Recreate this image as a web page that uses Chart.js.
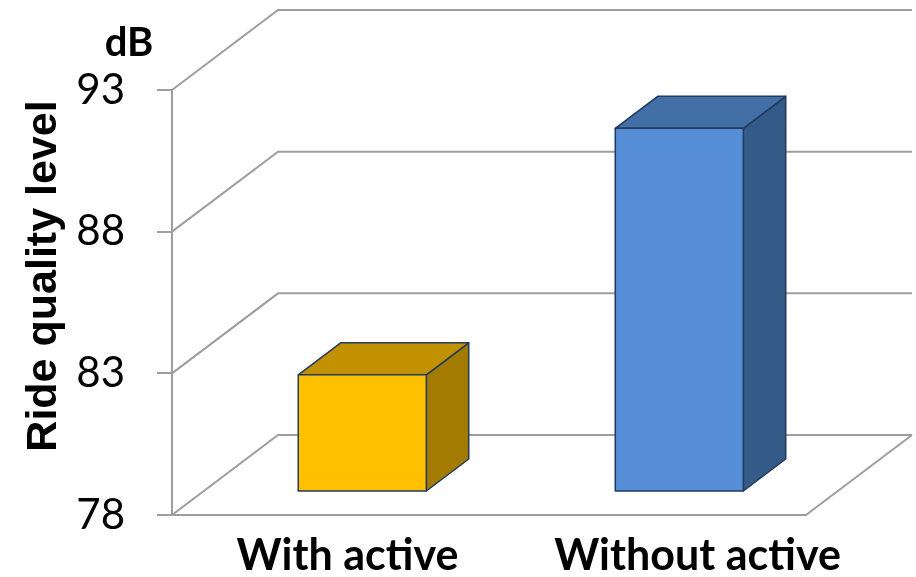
<!DOCTYPE html>
<html>
<head>
<meta charset="utf-8">
<script src="https://cdn.jsdelivr.net/npm/chart.js@4"></script>
<style>
  html, body { margin: 0; padding: 0; background: #ffffff; }
  #wrap { width: 916px; height: 577px; }
</style>
</head>
<body>
<div id="wrap"><canvas id="c" width="916" height="577"></canvas></div>
<script>
// Categories and measured ride quality level (dB)
const categories = ['With active', 'Without active'];
const rideQuality = [82.1, 90.8];
const tickValues = [78, 83, 88, 93];
const unitLabel = 'dB';
const axisTitle = 'Ride quality level';

// 3D look: depth offset of the back wall and bar faces
const DEPTH = { dx: 106, dy: 80 };
const BAR = { front: 0.3, back: 0.7, width: 0.404 };
const FACE_COLORS = [
  { front: '#FFC000', top: '#C29100', side: '#A27B00' },
  { front: '#558ED5', top: '#426FA6', side: '#345A88' }
];
const EDGE = '#213A5E';
const WALL = '#9e9e9e';
const LABEL_SHIFT = [17, 50];

const threeD = {
  id: 'threeD',
  beforeDraw(chart) {
    const ctx = chart.ctx;
    ctx.save();
    ctx.fillStyle = '#ffffff';
    ctx.fillRect(0, 0, chart.width, chart.height);
    ctx.restore();
  },
  beforeDatasetsDraw(chart) {
    const { ctx, scales: { x, y } } = chart;
    const left = x.left, right = x.right;
    ctx.save();
    ctx.strokeStyle = WALL;
    ctx.lineWidth = 2;
    // side-wall diagonals and back-wall gridlines
    tickValues.forEach(v => {
      const py = y.getPixelForValue(v);
      ctx.beginPath();
      ctx.moveTo(left, py);
      ctx.lineTo(left + DEPTH.dx, py - DEPTH.dy);
      ctx.lineTo(right + DEPTH.dx, py - DEPTH.dy);
      ctx.stroke();
    });
    // floor right edge
    const pb = y.getPixelForValue(y.min);
    ctx.beginPath();
    ctx.moveTo(right, pb);
    ctx.lineTo(right + DEPTH.dx, pb - DEPTH.dy);
    ctx.stroke();
    ctx.restore();
  },
  afterDatasetsDraw(chart) {
    const { ctx, scales: { x, y } } = chart;
    const catW = x.width / categories.length;
    const bw = catW * BAR.width;
    const fx = BAR.front * DEPTH.dx, fy = BAR.front * DEPTH.dy;
    const bx = (BAR.back - BAR.front) * DEPTH.dx, by = (BAR.back - BAR.front) * DEPTH.dy;
    ctx.save();
    ctx.lineJoin = 'round';
    ctx.strokeStyle = EDGE;
    ctx.lineWidth = 1.5;
    rideQuality.forEach((v, i) => {
      const xc = x.getPixelForValue(i);
      const x1 = xc - bw / 2 + fx, x2 = xc + bw / 2 + fx;
      const yt = y.getPixelForValue(v) - fy;
      const yb = y.getPixelForValue(y.min) - fy;
      const c = FACE_COLORS[i];
      const poly = (pts, fill) => {
        ctx.beginPath();
        ctx.moveTo(pts[0][0], pts[0][1]);
        for (let k = 1; k < pts.length; k++) ctx.lineTo(pts[k][0], pts[k][1]);
        ctx.closePath();
        ctx.fillStyle = fill;
        ctx.fill();
        ctx.stroke();
      };
      poly([[x2, yt], [x2 + bx, yt - by], [x2 + bx, yb - by], [x2, yb]], c.side);
      poly([[x1, yt], [x1 + bx, yt - by], [x2 + bx, yt - by], [x2, yt]], c.top);
      poly([[x1, yt], [x2, yt], [x2, yb], [x1, yb]], c.front);
    });
    ctx.restore();
  },
  afterDraw(chart) {
    const { ctx, scales: { x, y } } = chart;
    ctx.save();
    ctx.fillStyle = '#000000';
    // category labels
    ctx.font = 'bold 43px Lato';
    ctx.textAlign = 'center';
    ctx.textBaseline = 'alphabetic';
    categories.forEach((lab, i) => {
      ctx.fillText(lab, x.getPixelForValue(i) + LABEL_SHIFT[i], 570);
    });
    // unit above the value axis
    ctx.font = 'bold 40px Lato';
    ctx.fillText(unitLabel, 129, 56);
    // rotated axis title
    ctx.translate(56, 276);
    ctx.rotate(-Math.PI / 2);
    ctx.font = 'bold 43px "Liberation Sans"';
    ctx.fillText(axisTitle, 0, 0);
    ctx.restore();
  }
};

new Chart(document.getElementById('c'), {
  type: 'bar',
  data: {
    labels: categories,
    datasets: [{
      label: axisTitle,
      data: rideQuality,
      backgroundColor: 'rgba(0,0,0,0)',
      borderWidth: 0
    }]
  },
  options: {
    responsive: false,
    animation: false,
    events: [],
    layout: { padding: { left: 0, right: 110, top: 90, bottom: 62 } },
    plugins: { legend: { display: false }, tooltip: { enabled: false }, title: { display: false } },
    scales: {
      x: {
        type: 'category',
        ticks: { display: false },
        grid: { display: false },
        border: { display: true, color: WALL, width: 2 },
        afterFit(s) { s.height = 0; }
      },
      y: {
        min: 78,
        max: 93,
        afterBuildTicks(s) { s.ticks = tickValues.map(v => ({ value: v })); },
        ticks: {
          color: '#000000',
          font: { family: 'Lato', size: 42 },
          padding: 32
        },
        grid: { display: true, drawOnChartArea: false, drawTicks: true, tickLength: 15, color: WALL, lineWidth: 2 },
        border: { display: true, color: WALL, width: 2 },
        afterFit(s) { s.width = 172; }
      }
    }
  },
  plugins: [threeD]
});
</script>
</body>
</html>
